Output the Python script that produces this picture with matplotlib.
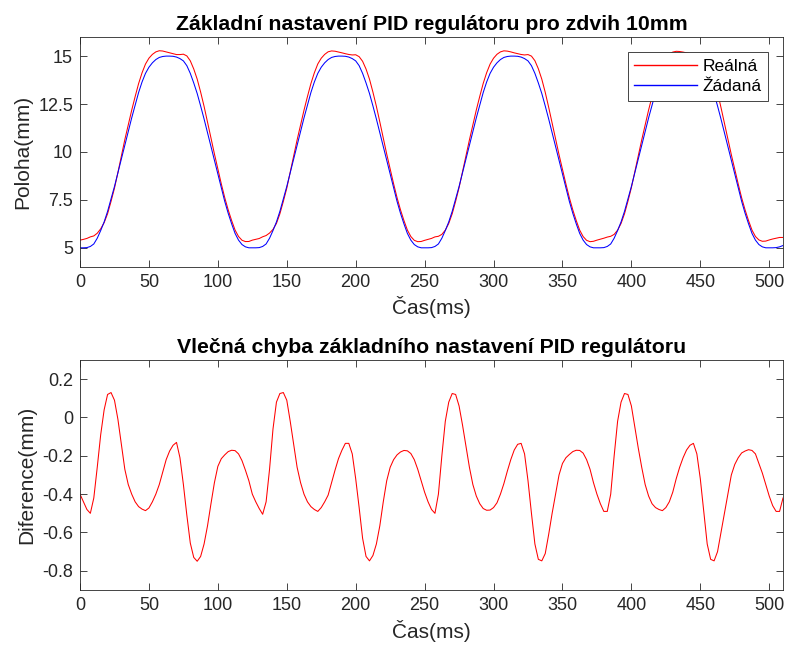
import numpy as np
import matplotlib
matplotlib.use('Agg')
import matplotlib.pyplot as plt

plt.rcParams['font.family'] = ['Liberation Sans', 'DejaVu Sans']
plt.rcParams['axes.unicode_minus'] = False

# sample step 2.5 ms, 0 .. 510 ms
dt = 2.5

# Žádaná (setpoint) position in mm
zadana = [
    5.0, 5.0, 5.01, 5.07, 5.2, 5.5, 5.9, 6.35, 6.9, 7.55,
    8.2, 8.92, 9.65, 10.37, 11.06, 11.78, 12.45, 13.1, 13.65, 14.1,
    14.42, 14.65, 14.82, 14.93, 14.98, 15.0, 15.0, 14.99, 14.95, 14.87,
    14.75, 14.5, 14.1, 13.6, 13.05, 12.4, 11.72, 11.0, 10.28, 9.56,
    8.85, 8.12, 7.42, 6.8, 6.25, 5.75, 5.4, 5.17, 5.05, 5.0,
    5.0, 5.0, 5.01, 5.07, 5.2, 5.5, 5.9, 6.35, 6.9, 7.55,
    8.2, 8.92, 9.65, 10.37, 11.06, 11.78, 12.45, 13.1, 13.65, 14.1,
    14.42, 14.65, 14.82, 14.93, 14.98, 15.0, 15.0, 14.99, 14.95, 14.87,
    14.75, 14.5, 14.1, 13.6, 13.05, 12.4, 11.72, 11.0, 10.28, 9.56,
    8.85, 8.12, 7.42, 6.8, 6.25, 5.75, 5.4, 5.17, 5.05, 5.0,
    5.0, 5.0, 5.01, 5.07, 5.2, 5.5, 5.9, 6.35, 6.9, 7.55,
    8.2, 8.92, 9.65, 10.37, 11.06, 11.78, 12.45, 13.1, 13.65, 14.1,
    14.42, 14.65, 14.82, 14.93, 14.98, 15.0, 15.0, 14.99, 14.95, 14.87,
    14.75, 14.5, 14.1, 13.6, 13.05, 12.4, 11.72, 11.0, 10.28, 9.56,
    8.85, 8.12, 7.42, 6.8, 6.25, 5.75, 5.4, 5.17, 5.05, 5.0,
    5.0, 5.0, 5.01, 5.07, 5.2, 5.5, 5.9, 6.35, 6.9, 7.55,
    8.2, 8.92, 9.65, 10.37, 11.06, 11.78, 12.45, 13.1, 13.65, 14.1,
    14.42, 14.65, 14.82, 14.93, 14.98, 15.0, 15.0, 14.99, 14.95, 14.87,
    14.75, 14.5, 14.1, 13.6, 13.05, 12.4, 11.72, 11.0, 10.28, 9.56,
    8.85, 8.12, 7.42, 6.8, 6.25, 5.75, 5.4, 5.17, 5.05, 5.0,
    5.0, 5.0, 5.01, 5.05, 5.12,
]

# Diference = Žádaná - Reálná (mm)
diference = [
    -0.40, -0.44, -0.48, -0.50, -0.42, -0.26, -0.09, 0.04, 0.12, 0.13,
    0.09, -0.01, -0.14, -0.27, -0.35, -0.40, -0.44, -0.465, -0.478, -0.486,
    -0.472, -0.44, -0.40, -0.35, -0.285, -0.22, -0.175, -0.145, -0.13, -0.21,
    -0.35, -0.51, -0.655, -0.73, -0.75, -0.725, -0.66, -0.565, -0.45, -0.34,
    -0.255, -0.215, -0.195, -0.178, -0.171, -0.173, -0.19, -0.225, -0.275, -0.33,
    -0.40, -0.44, -0.475, -0.505, -0.44, -0.27, -0.06, 0.08, 0.125, 0.13,
    0.09, -0.02, -0.14, -0.26, -0.34, -0.40, -0.44, -0.465, -0.48, -0.49,
    -0.47, -0.44, -0.405, -0.34, -0.275, -0.215, -0.171, -0.135, -0.135, -0.19,
    -0.32, -0.47, -0.63, -0.725, -0.748, -0.72, -0.66, -0.565, -0.44, -0.33,
    -0.26, -0.22, -0.195, -0.18, -0.172, -0.174, -0.188, -0.22, -0.27, -0.33,
    -0.39, -0.44, -0.48, -0.50, -0.40, -0.20, -0.02, 0.08, 0.125, 0.12,
    0.06, -0.04, -0.15, -0.26, -0.35, -0.41, -0.45, -0.475, -0.484, -0.483,
    -0.47, -0.445, -0.40, -0.345, -0.28, -0.22, -0.17, -0.14, -0.135, -0.19,
    -0.33, -0.50, -0.66, -0.74, -0.748, -0.71, -0.61, -0.50, -0.40, -0.30,
    -0.24, -0.21, -0.193, -0.178, -0.171, -0.172, -0.186, -0.22, -0.27, -0.34,
    -0.40, -0.45, -0.49, -0.49, -0.40, -0.20, -0.02, 0.08, 0.125, 0.12,
    0.06, -0.05, -0.16, -0.26, -0.35, -0.41, -0.45, -0.47, -0.48, -0.486,
    -0.47, -0.44, -0.39, -0.32, -0.26, -0.21, -0.17, -0.145, -0.135, -0.19,
    -0.32, -0.49, -0.66, -0.74, -0.748, -0.70, -0.60, -0.50, -0.40, -0.30,
    -0.245, -0.21, -0.185, -0.175, -0.168, -0.172, -0.19, -0.24, -0.29, -0.35,
    -0.41, -0.46, -0.49, -0.49, -0.42,
]

zadana = np.array(zadana)
diference = np.array(diference)
realna = zadana - diference
cas = np.arange(len(zadana)) * dt

x_ticks = [0, 50, 100, 150, 200, 250, 300, 350, 400, 450, 500]
y1_ticks = [5, 7.5, 10, 12.5, 15]
y2_ticks = [-0.8, -0.6, -0.4, -0.2, 0, 0.2]

axis_col = '#262626'


def matlab_style(ax):
    ax.tick_params(direction='in', top=True, right=True, length=5,
                   width=0.6, labelsize=13, colors=axis_col, pad=5)
    for s in ax.spines.values():
        s.set_linewidth(0.6)
        s.set_color(axis_col)


fig = plt.figure(figsize=(7.86, 6.48), dpi=100)

# top: position
ax1 = fig.add_axes([0.1018, 0.588, 0.8944, 0.355])
h_real, = ax1.plot(cas, realna, color='red', linewidth=0.75, label='Reálná')
h_zad, = ax1.plot(cas, zadana, color='blue', linewidth=0.75, label='Žádaná')
ax1.set_xlim(0, 510)
ax1.set_ylim(4, 16)
ax1.set_xticks(x_ticks)
ax1.set_yticks(y1_ticks)
ax1.set_yticklabels(['5', '7.5', '10', '12.5', '15'])
ax1.set_xlabel('Čas(ms)', fontsize=15, color=axis_col, labelpad=4)
ax1.set_ylabel('Poloha(mm)', fontsize=15, color=axis_col, labelpad=4)
ax1.set_title('Základní nastavení PID regulátoru pro zdvih 10mm',
              fontsize=15.3, fontweight='bold', pad=5)
matlab_style(ax1)
leg = ax1.legend(handles=[h_real, h_zad], loc='upper right', fontsize=12.5,
                 frameon=True, fancybox=False, framealpha=1,
                 handlelength=3.6, borderpad=0.4, labelspacing=0.3,
                 handletextpad=0.3, borderaxespad=0.85)
leg.get_frame().set_edgecolor(axis_col)
leg.get_frame().set_linewidth(0.6)
for line, col in zip(leg.get_lines(), ['red', 'blue']):
    line.set_color(col)
    line.set_linewidth(1.0)

# bottom: tracking error
ax2 = fig.add_axes([0.1018, 0.0895, 0.8944, 0.355])
ax2.plot(cas, diference, color='red', linewidth=0.75)
ax2.set_xlim(0, 510)
ax2.set_ylim(-0.9, 0.3)
ax2.set_xticks(x_ticks)
ax2.set_yticks(y2_ticks)
ax2.set_yticklabels(['-0.8', '-0.6', '-0.4', '-0.2', '0', '0.2'])
ax2.set_xlabel('Čas(ms)', fontsize=15, color=axis_col, labelpad=4)
ax2.set_ylabel('Diference(mm)', fontsize=15, color=axis_col, labelpad=4)
ax2.set_title('Vlečná chyba základního nastavení PID regulátoru',
              fontsize=15.3, fontweight='bold', pad=5)
matlab_style(ax2)

fig.savefig('out.png', dpi=100, facecolor='white')
